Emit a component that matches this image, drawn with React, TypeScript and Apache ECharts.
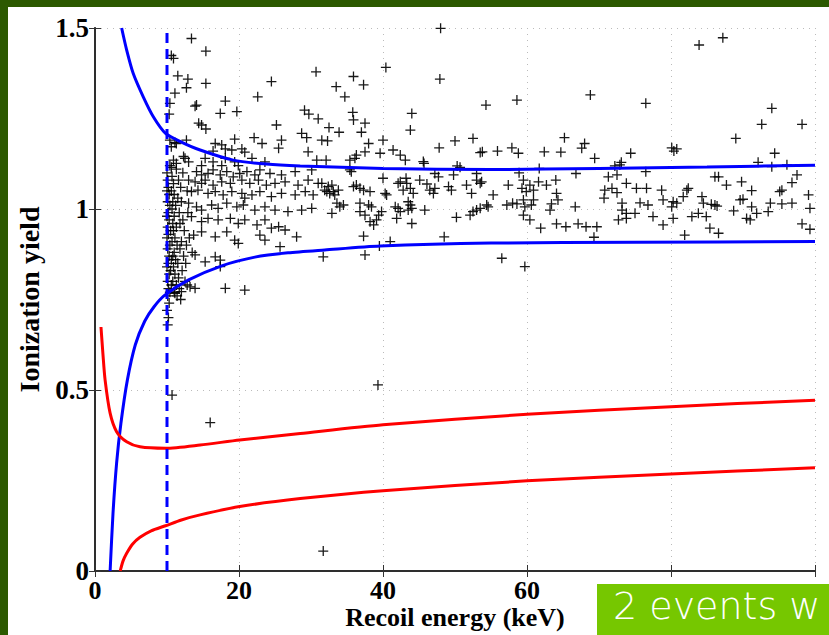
import React, { useEffect, useRef } from "react";
import * as echarts from "echarts";

// Axis ranges and ticks
const xTicks = [0, 20, 40, 60, 80, 100];
const xLabelledTicks = [0, 20, 40, 60];
const yTicks = [0, 0.5, 1, 1.5];
const thresholdKeV = 10;

// Electron-recoil band (blue), [recoil energy keV, ionization yield]
const gammaBandUpper: number[][] = [
  [3.7, 1.5], [4.4, 1.439], [5.3, 1.375], [6.7, 1.31], [8.1, 1.255], [9.8, 1.209],
  [12.0, 1.185], [14.6, 1.163], [19.2, 1.135], [23.8, 1.124], [28.5, 1.119],
  [40, 1.112], [55, 1.109], [70, 1.112], [85, 1.116], [100, 1.121],
];
const gammaBandLower: number[][] = [
  [2.1, 0], [2.5, 0.159], [3.0, 0.298], [3.6, 0.408], [4.5, 0.528], [5.6, 0.625],
  [6.9, 0.69], [8.2, 0.73], [9.7, 0.762], [13, 0.804], [17.6, 0.843], [22.2, 0.867],
  [26.8, 0.879], [31.9, 0.887], [39.6, 0.898], [55, 0.906], [75, 0.908], [100, 0.91],
];

// Nuclear-recoil band (red)
const neutronBandUpper: number[][] = [
  [0.83, 0.674], [1.1, 0.6], [1.4, 0.528], [2.1, 0.436], [3.0, 0.385], [4.4, 0.357],
  [6.25, 0.343], [9.8, 0.339], [14.6, 0.348], [20.1, 0.362], [28.5, 0.38], [40, 0.404],
  [60, 0.433], [80, 0.454], [100, 0.472],
];
const neutronBandLower: number[][] = [
  [3.5, 0], [3.9, 0.028], [4.4, 0.049], [5.2, 0.074], [6.25, 0.093], [7.8, 0.111],
  [9.8, 0.125], [12.0, 0.141], [14.6, 0.155], [20.1, 0.178], [28.5, 0.2], [40, 0.222],
  [60, 0.249], [80, 0.268], [100, 0.285],
];

// Events piled up just above the analysis threshold
const thresholdCluster: number[][] = [
  [10.0, 1.10], [10.1, 1.08], [10.2, 1.06], [10.0, 1.05], [10.3, 1.04], [10.1, 1.02], [10.4, 1.01],
  [10.2, 0.99], [10.0, 0.98], [10.3, 0.97], [10.1, 0.95], [10.5, 0.94], [10.2, 0.93], [10.0, 0.92],
  [10.4, 0.90], [10.1, 0.89], [10.3, 0.87], [10.6, 0.86], [10.2, 0.85], [10.0, 0.84], [10.5, 0.83],
  [10.3, 0.82], [10.1, 0.80], [10.6, 0.79], [10.2, 0.78], [10.4, 0.77], [10.1, 0.76], [10.3, 0.74],
  [10.0, 0.72], [10.2, 0.70], [10.1, 0.68],
  [10.7, 1.09], [10.9, 1.07], [10.6, 1.05], [11.0, 1.04], [10.8, 1.02], [11.2, 1.01], [10.7, 1.00],
  [11.0, 0.98], [10.8, 0.96], [11.3, 0.95], [10.9, 0.94], [11.1, 0.92], [10.7, 0.91], [11.4, 0.90],
  [11.0, 0.88], [10.8, 0.87], [11.2, 0.86], [11.5, 0.85], [10.9, 0.84], [11.1, 0.82], [11.6, 0.81],
  [10.8, 0.80], [11.3, 0.79], [11.7, 0.78], [11.0, 0.77], [11.4, 0.76],
  [11.6, 1.08], [11.9, 1.06], [11.5, 1.03], [12.0, 1.02], [11.7, 0.99], [12.2, 0.97], [11.8, 0.96],
  [12.4, 0.94], [12.0, 0.91], [11.8, 0.89], [12.3, 0.87], [12.6, 0.85], [12.1, 0.83], [12.5, 0.80],
  [12.8, 0.79], [11.9, 0.75],
  [10.4, 1.12], [11.3, 1.11], [10.6, 1.115], [12.2, 1.10], [12.8, 1.05], [12.9, 0.99], [13.1, 0.92],
  [13.5, 0.88], [12.7, 0.90],
];

// Events above the electron-recoil band
const highYieldEvents: number[][] = [
  [13.4, 1.471], [15.4, 1.436], [10.6, 1.424], [10.9, 1.416], [11.5, 1.368], [12.9, 1.359],
  [15.4, 1.347], [12.7, 1.335], [11.1, 1.32], [10.4, 1.292], [10.3, 1.262], [14.1, 1.287],
  [13.9, 1.284], [18.1, 1.298], [17.4, 1.264], [19.7, 1.269], [22.6, 1.31], [24.5, 1.352],
  [30.7, 1.379], [14.4, 1.237], [14.8, 1.232], [15.4, 1.221], [25.2, 1.232], [29.1, 1.273],
  [29.7, 1.262], [31.0, 1.249], [28.7, 1.209], [29.4, 1.197], [31.5, 1.19], [19.4, 1.193],
  [22.1, 1.197], [23.2, 1.181], [25.9, 1.19], [25.5, 1.168], [10.4, 1.19], [11.1, 1.184],
  [12.7, 1.19], [16.7, 1.181], [17.6, 1.177], [18.1, 1.166], [19.0, 1.163], [20.4, 1.166],
  [20.8, 1.157], [16.4, 1.16], [29.6, 1.158], [30.8, 1.135], [10.9, 1.135], [12.5, 1.14],
  [13.0, 1.13], [15.3, 1.14], [16.4, 1.13], [18.1, 1.14], [19.4, 1.13], [21.8, 1.14], [23.6, 1.13],
  [11.3, 1.126], [12.3, 1.145], [10.6, 1.172], [11.3, 1.181], [14.8, 1.12], [17.6, 1.12], [19.9, 1.12],
  [48.0, 1.499], [40.4, 1.391], [47.9, 1.359], [35.9, 1.366], [33.5, 1.338], [37.3, 1.343],
  [34.7, 1.31], [54.3, 1.287], [35.8, 1.267], [35.9, 1.246], [37.5, 1.237], [44.0, 1.264],
  [43.8, 1.218], [32.5, 1.225], [33.9, 1.212], [37.0, 1.212], [32.3, 1.188], [40.0, 1.19],
  [38.0, 1.181], [50.0, 1.188], [52.5, 1.195], [47.8, 1.169], [53.8, 1.158], [37.5, 1.158],
  [39.6, 1.154], [41.4, 1.163], [42.4, 1.149], [43.1, 1.135], [45.6, 1.131], [36.1, 1.14],
  [32.1, 1.135], [35.4, 1.135], [36.3, 1.149],
  [58.6, 1.301], [68.8, 1.315], [76.5, 1.292], [65.2, 1.197], [68.0, 1.181], [67.6, 1.168],
  [55.9, 1.16], [57.9, 1.169], [58.8, 1.154], [62.4, 1.158], [64.7, 1.157], [69.4, 1.14],
  [74.4, 1.154], [73.1, 1.129], [53.5, 1.156],
  [83.9, 1.453], [87.2, 1.473], [94.0, 1.278], [92.6, 1.234], [98.2, 1.234], [89.0, 1.195],
  [80.1, 1.169], [80.8, 1.166], [80.4, 1.16], [94.4, 1.154], [92.1, 1.129],
];

// Events inside the electron-recoil band
const bandEvents: number[][] = [
  [14.1, 1.103], [14.8, 1.094], [15.7, 1.098], [16.4, 1.108], [17.4, 1.094], [18.3, 1.103],
  [19.2, 1.089], [20.1, 1.098], [21.1, 1.103], [22.2, 1.094], [22.9, 1.108], [24.3, 1.098],
  [25.9, 1.094], [27.8, 1.103], [30.1, 1.108],
  [13.0, 1.08], [13.9, 1.075], [14.8, 1.071], [15.3, 1.08], [16.4, 1.066], [17.6, 1.075],
  [18.8, 1.071], [20.4, 1.08], [21.5, 1.071], [22.7, 1.08], [23.8, 1.066], [25.0, 1.071],
  [26.4, 1.075], [28.2, 1.066], [29.6, 1.08], [31.0, 1.071],
  [13.4, 1.048], [14.3, 1.052], [15.7, 1.043], [16.7, 1.048], [17.8, 1.039], [19.0, 1.048],
  [20.4, 1.043], [20.8, 1.03], [21.8, 1.039], [22.9, 1.048], [24.5, 1.034], [25.9, 1.043],
  [27.8, 1.039], [29.2, 1.048], [30.3, 1.039],
  [13.0, 1.016], [14.1, 1.006], [14.8, 0.997], [16.2, 1.011], [17.1, 1.002], [18.3, 1.016],
  [19.7, 1.006], [20.6, 1.011], [22.2, 0.997], [23.6, 1.006], [25.0, 0.997], [26.8, 0.993],
  [28.7, 0.997], [30.1, 1.002],
  [13.4, 0.979], [14.8, 0.965], [15.7, 0.974], [17.1, 0.97], [18.8, 0.974], [19.9, 0.96],
  [20.8, 0.97], [22.5, 0.956], [23.6, 0.97], [24.5, 0.947], [25.5, 0.951], [26.4, 0.942],
  [13.7, 0.928], [14.8, 0.937], [16.7, 0.923], [18.3, 0.937], [19.4, 0.914], [19.9, 0.905],
  [22.9, 0.928], [23.6, 0.914], [28.0, 0.923], [25.7, 0.896],
  [13.9, 0.873], [16.7, 0.868], [17.4, 0.859], [15.3, 0.854], [17.4, 0.841],
  [13.2, 0.785], [13.9, 0.781], [18.1, 0.781], [20.8, 0.776], [11.1, 0.767], [12.0, 0.772],
  [35.6, 1.103], [35.4, 1.108], [45.7, 1.126], [50.3, 1.119], [50.7, 1.115], [53.0, 1.098],
  [40.0, 1.085], [42.4, 1.075], [42.1, 1.071], [43.2, 1.085], [43.3, 1.071], [45.1, 1.08],
  [46.1, 1.069], [47.2, 1.098], [47.7, 1.089], [49.8, 1.094], [31.5, 1.071], [31.9, 1.052],
  [32.4, 1.062], [32.9, 1.066], [33.1, 1.048], [32.6, 1.043], [32.2, 1.048], [33.3, 1.039],
  [33.8, 1.052], [35.9, 1.062], [36.3, 1.066], [36.8, 1.057], [37.3, 1.052], [38.2, 1.048],
  [40.3, 1.043], [40.5, 1.039], [42.8, 1.052], [43.8, 1.057], [44.2, 1.043], [46.5, 1.052],
  [47.0, 1.043], [47.2, 1.057], [49.1, 1.062], [49.5, 1.052], [51.6, 1.066], [52.3, 1.043],
  [53.0, 1.08], [53.5, 1.071], [33.6, 1.016], [34.0, 1.006], [34.5, 1.011], [32.9, 0.988],
  [36.8, 1.016], [38.0, 1.011], [38.4, 1.006], [36.8, 0.993], [37.5, 0.983], [38.2, 0.965],
  [38.7, 0.956], [39.1, 0.97], [39.4, 0.983], [39.8, 0.993], [41.7, 1.006], [42.1, 1.002],
  [42.4, 0.993], [41.9, 0.974], [43.5, 1.02], [43.8, 1.011], [44.0, 1.002], [43.5, 0.997],
  [44.0, 0.96], [45.8, 0.997], [50.2, 0.977], [52.1, 0.983], [52.5, 0.993], [53.0, 0.997],
  [54.4, 1.011], [37.3, 0.925], [48.5, 0.923], [41.0, 0.91], [39.5, 0.898], [31.7, 0.868],
  [37.5, 0.873],
  [61.7, 1.112], [58.9, 1.1], [66.8, 1.098], [76.5, 1.103], [94.0, 1.117], [96.1, 1.122],
  [97.5, 1.094], [96.8, 1.073], [72.9, 1.122], [72.2, 1.119],
  [53.7, 1.075], [57.4, 1.066], [59.5, 1.08], [60.4, 1.066], [61.6, 1.075], [62.7, 1.066],
  [64.0, 1.08], [59.3, 1.057], [59.9, 1.048], [60.9, 1.052], [55.3, 1.039], [54.6, 1.006],
  [57.2, 1.011], [58.0, 1.016], [58.6, 1.014], [59.5, 1.025], [60.9, 1.025], [59.7, 1.006],
  [60.6, 1.011], [63.2, 0.997], [63.4, 1.014], [64.3, 1.025], [64.1, 1.043], [66.7, 1.006],
  [59.5, 0.983], [60.4, 0.97], [61.9, 0.947], [64.1, 0.959], [65.4, 0.951], [67.1, 0.959],
  [68.2, 0.951], [69.7, 0.951], [69.3, 0.922], [71.3, 1.089], [72.5, 1.094], [70.8, 1.052],
  [71.8, 1.057], [72.5, 1.045], [73.8, 1.071], [75.2, 1.057], [76.6, 1.057], [78.7, 1.052],
  [70.7, 1.03], [73.2, 1.016], [75.7, 1.017], [76.8, 1.011], [78.9, 1.025], [73.2, 0.997],
  [73.8, 0.988], [75.0, 0.988], [72.7, 0.97], [73.8, 0.974], [77.5, 0.979], [78.9, 0.956],
  [80.3, 0.974], [80.3, 1.02], [80.1, 1.006], [80.8, 1.016], [81.7, 1.034], [82.2, 1.052],
  [82.4, 1.057], [81.9, 0.928], [82.9, 0.979], [83.8, 0.988], [84.3, 1.034], [84.5, 1.016],
  [84.9, 0.979], [85.4, 0.947], [86.6, 0.933], [86.1, 1.089], [86.6, 1.089], [87.7, 1.066],
  [86.1, 1.011], [85.6, 1.013], [86.4, 1.008], [88.7, 0.995], [89.8, 1.075], [91.2, 1.051],
  [90.0, 1.027], [89.6, 1.025], [91.2, 1.006], [91.9, 0.988], [90.5, 0.974], [91.0, 0.97],
  [93.5, 0.993], [93.8, 1.016], [95.4, 1.014], [96.8, 1.016], [95.4, 1.052], [95.1, 1.048],
  [99.1, 1.039], [98.2, 0.959], [99.3, 0.944], [99.3, 1.002], [56.5, 0.864], [59.7, 0.841],
  [53.5, 1.002],
];

// Isolated low-yield events
const lowYieldEvents: number[][] = [
  [39.3, 0.514], [16.0, 0.41], [31.7, 0.055], [10.7, 0.486],
];

const plusSymbol = "path://M0,5L10,5M5,0L5,10";
const serif = "'Liberation Serif', 'Times New Roman', serif";

export default function App() {
  const ref = useRef<HTMLDivElement>(null);

  useEffect(() => {
    if (!ref.current) return;
    const chart = echarts.init(ref.current, undefined, { renderer: "svg" });

    const eventSeries = (name: string, data: number[][]) => ({
      name,
      type: "scatter",
      data,
      symbol: plusSymbol,
      symbolSize: 10,
      itemStyle: {
        color: "rgba(0,0,0,0)",
        borderColor: "#000",
        borderWidth: 1.3,
        opacity: 0.9,
      },
      z: 2,
    });

    const bandLine = (name: string, data: number[][], color: string) => ({
      name,
      type: "line",
      data,
      smooth: 0.25,
      symbol: "none",
      lineStyle: { color, width: 3 },
      z: 4,
    });

    const tickLabel = {
      fontFamily: serif,
      fontWeight: "bold" as const,
      fontSize: 27,
      color: "#000",
    };

    chart.setOption({
      animation: false,
      backgroundColor: "#ffffff",
      grid: {
        left: 95,
        top: 28,
        right: 14,
        bottom: 64,
        containLabel: false,
        outerBoundsMode: "none",
      },
      xAxis: [
        {
          type: "value",
          min: xTicks[0],
          max: xTicks[xTicks.length - 1],
          interval: 20,
          name: "Recoil energy (keV)",
          nameLocation: "middle",
          nameGap: 33,
          nameMoveOverlap: false,
          nameTextStyle: { ...tickLabel, fontSize: 26 },
          axisLine: { lineStyle: { color: "#222", width: 2 } },
          axisTick: { inside: true, length: 6, lineStyle: { color: "#333" } },
          axisLabel: {
            ...tickLabel,
            fontSize: 26,
            margin: 6,
            formatter: (v: number) => (xLabelledTicks.includes(v) ? String(v) : ""),
          },
          splitLine: { show: true, lineStyle: { color: "#bbb", type: [1, 5] } },
        },
        {
          type: "value",
          position: "top",
          min: xTicks[0],
          max: xTicks[xTicks.length - 1],
          interval: 20,
          axisLine: { lineStyle: { color: "#333", width: 1.5 } },
          axisTick: { inside: true, length: 6, lineStyle: { color: "#333" } },
          axisLabel: { show: false },
          splitLine: { show: false },
        },
      ],
      yAxis: [
        {
          type: "value",
          min: yTicks[0],
          max: yTicks[yTicks.length - 1],
          interval: 0.5,
          name: "Ionization yield",
          nameLocation: "middle",
          nameGap: 52,
          nameMoveOverlap: false,
          nameTextStyle: { ...tickLabel, fontSize: 28 },
          axisLine: { lineStyle: { color: "#222", width: 2 } },
          axisTick: { inside: true, length: 6, lineStyle: { color: "#333" } },
          axisLabel: { ...tickLabel, margin: 6 },
          splitLine: { show: true, lineStyle: { color: "#bbb", type: [1, 5] } },
        },
        {
          type: "value",
          position: "right",
          min: yTicks[0],
          max: yTicks[yTicks.length - 1],
          interval: 0.5,
          axisLine: { show: true, lineStyle: { color: "#333", width: 1.5 } },
          axisTick: { show: true, inside: true, length: 6, lineStyle: { color: "#333" } },
          axisLabel: { show: false },
          splitLine: { show: false },
        },
      ],
      series: [
        eventSeries("threshold cluster", thresholdCluster),
        eventSeries("band events", bandEvents),
        eventSeries("high-yield events", highYieldEvents),
        eventSeries("low-yield events", lowYieldEvents),
        bandLine("gamma band upper", gammaBandUpper, "#0000ff"),
        bandLine("gamma band lower", gammaBandLower, "#0000ff"),
        bandLine("neutron band upper", neutronBandUpper, "#ff0000"),
        bandLine("neutron band lower", neutronBandLower, "#ff0000"),
        {
          name: "threshold",
          type: "line",
          data: [
            [thresholdKeV, yTicks[0]],
            [thresholdKeV, yTicks[yTicks.length - 1]],
          ],
          symbol: "none",
          lineStyle: { color: "#0000ff", width: 3, type: [10, 6] },
          z: 5,
        },
      ],
      graphic: [
        { type: "rect", left: 0, top: 0, shape: { width: 829, height: 7 }, style: { fill: "#2c5900" }, z: 100 },
        { type: "rect", left: 0, top: 0, shape: { width: 8, height: 635 }, style: { fill: "#2c5900" }, z: 100 },
        {
          type: "rect",
          left: 597,
          top: 584,
          shape: { width: 232, height: 51 },
          style: { fill: "#76c700" },
          z: 100,
        },
        {
          type: "text",
          left: 613,
          top: 587,
          style: {
            text: "2 events w",
            fill: "#ffffff",
            font: "200 38px 'DejaVu Sans', Verdana, sans-serif",
          },
          z: 101,
        },
      ],
    });

    return () => chart.dispose();
  }, []);

  return (
    <div
      ref={ref}
      style={{ position: "fixed", left: 0, top: 0, width: 829, height: 635 }}
    />
  );
}
